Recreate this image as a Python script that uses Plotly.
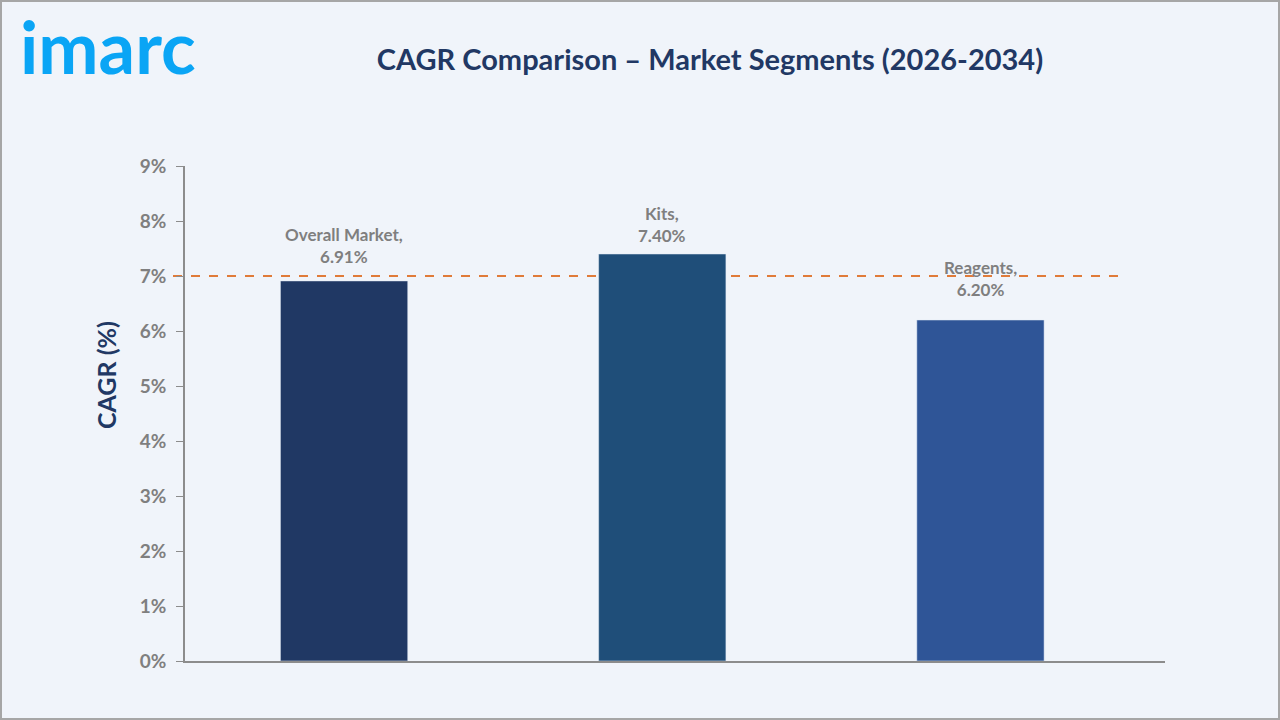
import plotly.graph_objects as go

# chart data
segments = ["Overall Market", "Kits", "Reagents"]
cagr = [6.91, 7.40, 6.20]
bar_colors = ["#203864", "#1f4e79", "#2f5597"]
reference_cagr = 7.0
y_ticks = [0, 1, 2, 3, 4, 5, 6, 7, 8, 9]
y_tick_labels = [f"{t}%" for t in y_ticks]

# label offsets above each bar (px), as placed in the original
label_shift = [12, 6, 18]

W, H = 1280, 720
L, R, T, B = 185, 115, 166, 59
pw, ph = W - L - R, H - T - B


def px_x(x):
    return (x - L) / pw


def px_y(y):
    return (H - B - y) / ph


fig = go.Figure()
fig.add_trace(go.Bar(
    x=segments,
    y=cagr,
    width=0.4,
    marker_color=bar_colors,
    hoverinfo="skip",
))

for seg, val, dy in zip(segments, cagr, label_shift):
    fig.add_annotation(
        x=seg, y=val, text=f"{seg},<br>{val:.2f}%",
        yanchor="bottom", yshift=dy, showarrow=False,
        font=dict(family="Lato", size=17, color="#7f7f7f", weight="bold"),
    )

# dashed reference line at 7%
fig.add_shape(
    type="line", xref="paper", yref="y",
    x0=px_x(173), x1=px_x(1120), y0=reference_cagr, y1=reference_cagr,
    line=dict(color="#e07b39", width=2, dash="dash"),
    layer="below",
)

# outer frame
fig.add_shape(
    type="rect", xref="paper", yref="paper",
    x0=px_x(1), x1=px_x(W - 1), y0=px_y(H - 1), y1=px_y(1),
    line=dict(color="#a6a6a6", width=2),
)

fig.add_annotation(
    text="imarc", xref="paper", yref="paper",
    x=px_x(18), y=px_y(1), xanchor="left", yanchor="top",
    showarrow=False,
    font=dict(family="Lato", size=72, color="#0aa5f5", weight="bold"),
)

fig.add_annotation(
    text="CAGR (%)", xref="paper", yref="paper",
    x=px_x(89), y=px_y(375), textangle=-90,
    showarrow=False,
    font=dict(family="Lato", size=25, color="#213864", weight="bold"),
)

fig.update_layout(
    width=W, height=H,
    margin=dict(l=L, r=R, t=T, b=B),
    paper_bgcolor="#f0f4fa",
    plot_bgcolor="#f0f4fa",
    showlegend=False,
    title=dict(
        text="CAGR Comparison – Market Segments (2026-2034)",
        x=710 / W, xanchor="center",
        y=1 - 60 / H, yanchor="middle",
        font=dict(family="Lato", size=29, color="#213864", weight="bold"),
    ),
    xaxis=dict(
        range=[-0.5, 2.58],
        showticklabels=False,
        ticks="",
        showline=True, linecolor="#8c8c8c", linewidth=1.5,
        showgrid=False, zeroline=False,
        fixedrange=True,
    ),
    yaxis=dict(
        range=[0, 9],
        tickvals=y_ticks, ticktext=y_tick_labels,
        ticks="outside", ticklen=7, tickcolor="#8c8c8c",
        showline=True, linecolor="#8c8c8c", linewidth=1.5,
        showgrid=False, zeroline=False,
        tickfont=dict(family="Lato", size=19, color="#7f7f7f", weight="bold"),
        ticklabelstandoff=6,
    ),
)

fig.write_html(
    "out.html",
    config={"displayModeBar": False},
    post_script="document.body.style.margin='0';",
)
